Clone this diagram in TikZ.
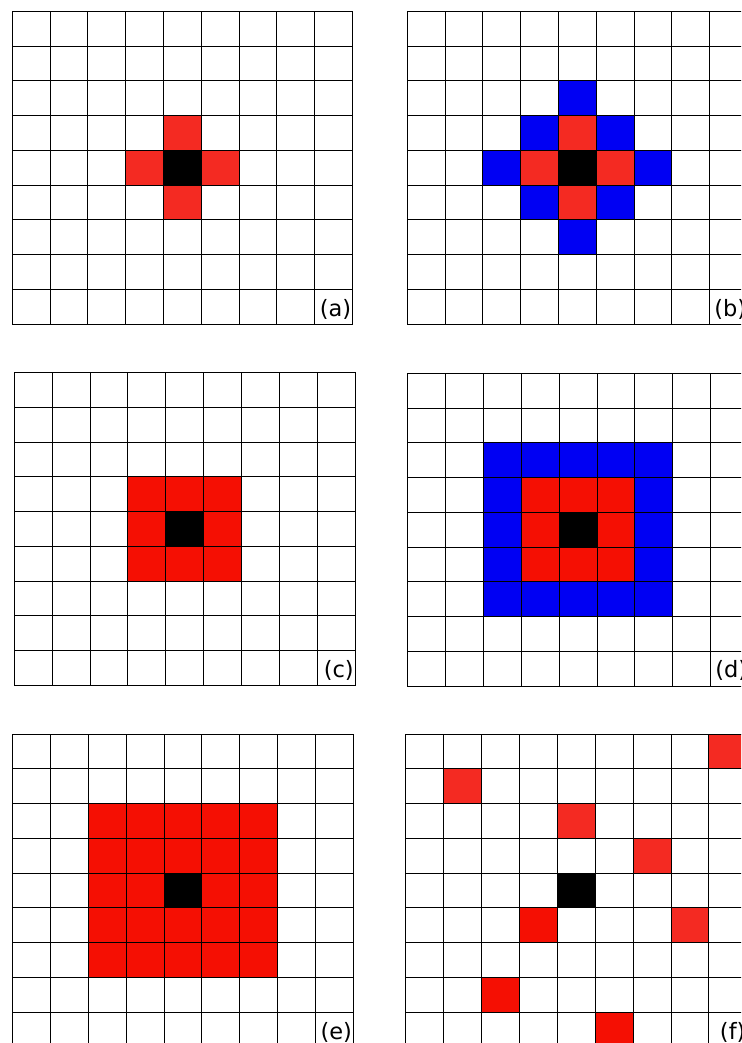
\documentclass[tikz,border=0pt]{standalone}
\usepackage{fontspec}
\setmainfont{DejaVu Sans}
\usepackage{xcolor}
\usepackage{tikz}
\definecolor{nbred}{HTML}{F42A22}
\definecolor{nbdeep}{HTML}{F50F03}
\definecolor{nbblue}{HTML}{0000F3}
\tikzset{
  gridline/.style={draw=black, line width=0.9pt, line cap=rect},
  hit/.style={fill=nbred},
  hitdeep/.style={fill=nbdeep},
  ring/.style={fill=nbblue},
  centre/.style={fill=black},
  tag/.style={font=\fontsize{22.5}{22.5}\selectfont, anchor=base east, inner sep=0pt},
  board/.pic={
    \foreach \i in {0,...,9} {
      \draw[gridline] (\i,0) -- (\i,9);
      \draw[gridline] (0,\i) -- (9,\i);
    }
  },
}

\begin{document}
\begin{tikzpicture}[x=1pt,y=-1pt]
\useasboundingbox (0,0) rectangle (741,1043);
\clip (0,0) rectangle (741,1043);

% ---------- panel a ----------
\begin{scope}[shift={(12.3,11.3)},x=37.8pt,y=-34.75pt]
\foreach \c/\r in {4/3,3/4,5/4,4/5} \fill[hit] (\c,\r) rectangle ++(1,1);
\fill[centre] (4,4) rectangle (5,5);
\pic {board};
\node[tag] (la) at (8.97,8.77) {(a)};
\end{scope}

% ---------- panel b ----------
\begin{scope}[shift={(407.3,11.3)},x=37.8pt,y=-34.75pt]
\foreach \c/\r in {4/2,3/3,5/3,2/4,6/4,3/5,5/5,4/6} \fill[ring] (\c,\r) rectangle ++(1,1);
\foreach \c/\r in {4/3,3/4,5/4,4/5} \fill[hit] (\c,\r) rectangle ++(1,1);
\fill[centre] (4,4) rectangle (5,5);
\pic {board};
\node[tag] (lb) at (8.97,8.77) {(b)};
\end{scope}

% ---------- panel c ----------
\begin{scope}[shift={(14.3,372.7)},x=37.86pt,y=-34.73pt]
\fill[hitdeep] (3,3) rectangle (6,6);
\fill[centre] (4,4) rectangle (5,5);
\pic {board};
\node[tag] (lc) at (8.97,8.77) {(c)};
\end{scope}

% ---------- panel d ----------
\begin{scope}[shift={(407.7,373.4)},x=37.87pt,y=-34.73pt]
\fill[ring] (2,2) rectangle (7,7);
\fill[hitdeep] (3,3) rectangle (6,6);
\fill[centre] (4,4) rectangle (5,5);
\pic {board};
\node[tag] (ld) at (8.97,8.77) {(d)};
\end{scope}

% ---------- panel e ----------
\begin{scope}[shift={(12.7,734)},x=37.84pt,y=-34.78pt]
\fill[hitdeep] (2,2) rectangle (7,7);
\fill[centre] (4,4) rectangle (5,5);
\pic {board};
\node[tag] (le) at (8.97,8.77) {(e)};
\end{scope}

% ---------- panel f: scattered ----------
\begin{scope}[shift={(405.7,734)},x=37.9pt,y=-34.78pt]
\foreach \c/\r in {8/0,1/1,4/2,6/3,7/5} \fill[hit] (\c,\r) rectangle ++(1,1);
\foreach \c/\r in {3/5,2/7,5/8} \fill[hitdeep] (\c,\r) rectangle ++(1,1);
\fill[centre] (4,4) rectangle (5,5);
\pic {board};
\node[tag] (lf) at (8.97,8.77) {(f)};
\end{scope}
\end{tikzpicture}
\end{document}
